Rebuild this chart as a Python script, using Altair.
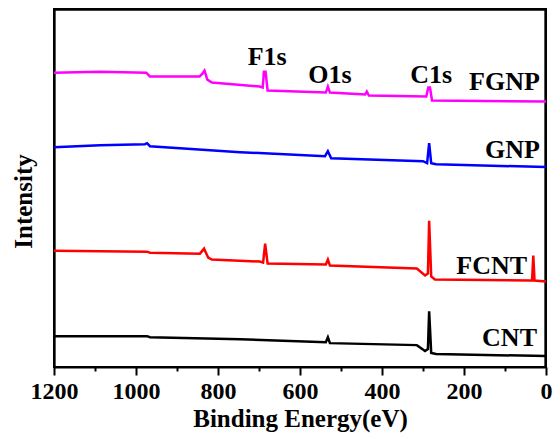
import altair as alt
import pandas as pd

# Binding energy (eV) and intensity (a.u.)
CNT_E = [1200, 973, 966, 746, 537, 532, 527, 315, 295, 288, 285, 280, 268, 0]
CNT_I = [31, 31, 30, 28, 25, 30, 24, 22, 16, 18, 56, 14, 13, 11]

FCNT_E = [1200, 973, 966, 844, 834, 824, 815, 698, 690, 685, 679, 537, 532, 527,
          315, 295, 288, 285, 280, 271, 39, 34, 31, 28, 0]
FCNT_I = [117, 116, 115, 114, 119, 110, 108, 106, 105, 124, 104, 103, 108, 102,
          99, 92, 94, 147, 91, 88, 87, 87, 112, 87, 86]

GNP_E = [1200, 1088, 978, 973, 966, 746, 539, 532, 524, 300, 290, 285, 280, 268, 0]
GNP_I = [221, 223, 224, 225, 222, 216, 212, 217, 210, 207, 205, 225, 205, 204, 201]

FGNP_E = [1200, 1088, 975, 966, 845, 838, 833, 826, 815, 698, 691, 688, 684, 679,
          537, 532, 527, 441, 437, 432, 292, 287, 283, 278, 0]
FGNP_I = [296, 297, 296, 292, 292, 295, 298, 289, 286, 282, 281, 297, 297, 278,
          276, 282, 276, 274, 277, 273, 272, 281, 281, 268, 267]

SAMPLES = ["CNT", "FCNT", "GNP", "FGNP"]
COLORS = ["#000000", "#ff0000", "#0000ff", "#ff00ff"]

# annotations
PEAK_LABELS = ["F1s", "O1s", "C1s"]
PEAK_E = [680, 527, 280]
PEAK_I = [304, 286, 286]

SAMPLE_LABEL_E = [22, 46, 15, 15]
SAMPLE_LABEL_I = [21, 94, 210, 279]

X_TICKS = list(range(0, 1201, 100))

# frame of the plot box, in data units
E_MIN, E_MAX = 0, 1200
I_MIN, I_MAX = 0, 360
FRAME_E = [1, 1199]
FRAME_TOP = 359.4

rows = []
for name, E, I in [("CNT", CNT_E, CNT_I), ("FCNT", FCNT_E, FCNT_I),
                   ("GNP", GNP_E, GNP_I), ("FGNP", FGNP_E, FGNP_I)]:
    for k, (e, i) in enumerate(zip(E, I)):
        rows.append({"sample": name, "energy": e, "intensity": i, "k": k})
df = pd.DataFrame(rows)

peaks = pd.DataFrame({"label": PEAK_LABELS, "energy": PEAK_E, "intensity": PEAK_I})
slabels = pd.DataFrame({"label": SAMPLES, "energy": SAMPLE_LABEL_E,
                        "intensity": SAMPLE_LABEL_I})
vrules = pd.DataFrame({"e": FRAME_E, "i0": [I_MIN, I_MIN], "i1": [FRAME_TOP, FRAME_TOP]})
hrules = pd.DataFrame({"i": [FRAME_TOP], "e0": [FRAME_E[0]], "e1": [FRAME_E[1]]})

FONT = "Liberation Serif"

x_scale = alt.Scale(domain=[E_MIN, E_MAX], reverse=True, nice=False, zero=False)
y_scale = alt.Scale(domain=[I_MIN, I_MAX], nice=False, zero=False)

x_axis = alt.Axis(
    title="Binding Energy(eV)",
    values=X_TICKS,
    format="d",
    labelExpr="datum.value % 200 === 0 ? datum.label : ''",
    tickSize={"condition": {"test": "datum.value % 200 === 0", "value": 8}, "value": 4},
    tickColor="black", tickWidth=2,
    domainColor="black", domainWidth=2,
    labelFont=FONT, labelFontSize=24, labelFontWeight="bold", labelColor="black",
    labelFlush=False, labelPadding=4, labelOverlap=False,
    titleFont=FONT, titleFontSize=25, titleFontWeight="bold", titleColor="black",
    titlePadding=3,
    grid=False,
)
y_axis = alt.Axis(
    title="Intensity", labels=False, ticks=False, domain=False, grid=False,
    titleFont=FONT, titleFontSize=25, titleFontWeight="bold", titleColor="black",
    titlePadding=18, titleY=192,
)

lines = alt.Chart(df).mark_line(strokeWidth=2.5).encode(
    x=alt.X("energy:Q", scale=x_scale, axis=x_axis),
    y=alt.Y("intensity:Q", scale=y_scale, axis=y_axis),
    color=alt.Color("sample:N", scale=alt.Scale(domain=SAMPLES, range=COLORS), legend=None),
    order="k:Q",
    detail="sample:N",
)

vframe = alt.Chart(vrules).mark_rule(color="#000000", strokeWidth=2.5, opacity=1).encode(
    x=alt.X("e:Q", scale=x_scale),
    y=alt.Y("i0:Q", scale=y_scale),
    y2="i1:Q",
)
hframe = alt.Chart(hrules).mark_rule(color="#000000", strokeWidth=2.5, opacity=1).encode(
    y=alt.Y("i:Q", scale=y_scale),
    x=alt.X("e0:Q", scale=x_scale),
    x2="e1:Q",
)

peak_text = alt.Chart(peaks).mark_text(
    font=FONT, fontSize=26, fontWeight="bold", color="black",
    align="center", baseline="alphabetic",
).encode(x=alt.X("energy:Q", scale=x_scale),
         y=alt.Y("intensity:Q", scale=y_scale), text="label:N")

sample_text = alt.Chart(slabels).mark_text(
    font=FONT, fontSize=26, fontWeight="bold", color="black",
    align="right", baseline="alphabetic",
).encode(x=alt.X("energy:Q", scale=x_scale),
         y=alt.Y("intensity:Q", scale=y_scale), text="label:N")

chart = alt.layer(vframe, hframe, lines, peak_text, sample_text).properties(
    width=492, height=358,
    autosize=alt.AutoSizeParams(type="none"),
    padding={"left": 46, "top": 1, "right": 6, "bottom": 70},
).configure_view(stroke="black", strokeWidth=2)

chart.save("out.html", embed_options={"renderer": "svg", "actions": False})
